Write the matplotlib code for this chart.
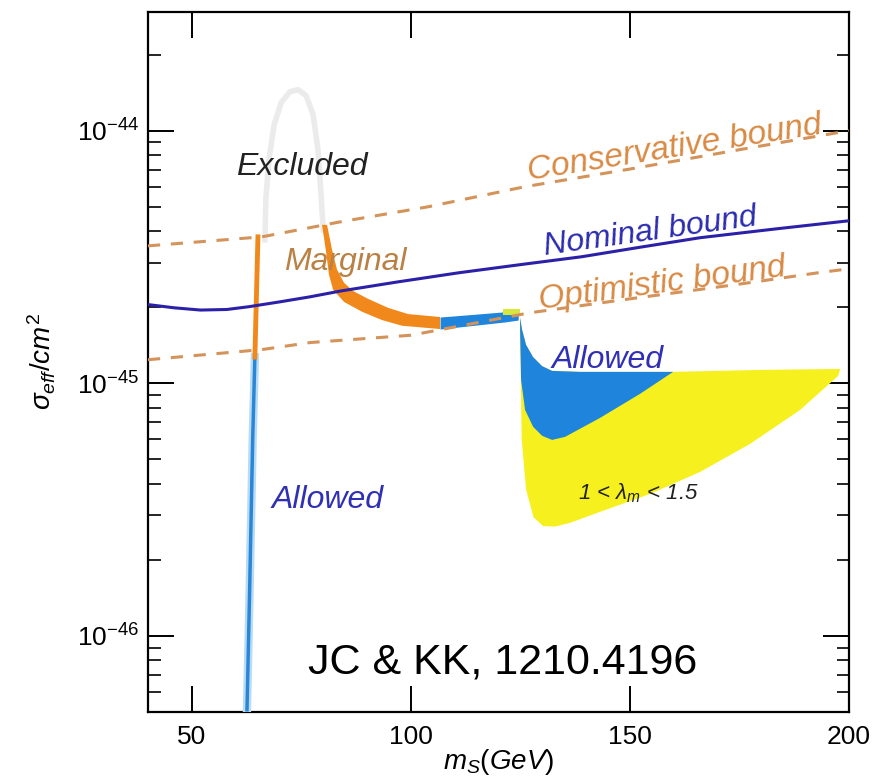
import numpy as np
import matplotlib
matplotlib.use("Agg")
import matplotlib.pyplot as plt
from matplotlib.ticker import NullFormatter, FixedLocator, LogFormatterMathtext

plt.rcParams['font.family'] = ['Liberation Sans', 'DejaVu Sans']
plt.rcParams['mathtext.fontset'] = 'custom'
plt.rcParams['mathtext.rm'] = 'Liberation Sans'
plt.rcParams['mathtext.it'] = 'Liberation Sans:italic'
plt.rcParams['mathtext.bf'] = 'Liberation Sans:bold'

U = 1e-45  # cross sections below are in units of 1e-45 cm^2

# direct-detection bounds
m_nom = [40, 46, 52, 58, 63, 70, 77, 84, 97, 111, 125, 139, 152, 166, 183, 200]
s_nom = [2.05, 1.99, 1.95, 1.96, 2.01, 2.10, 2.20, 2.32, 2.52, 2.74, 2.95, 3.17, 3.45, 3.77, 4.08, 4.40]

m_cons = [40, 66, 84, 104, 126, 150, 175, 200]
s_cons = [3.50, 3.80, 4.36, 5.00, 6.00, 7.05, 8.41, 10.0]

m_opt = [40, 66, 77, 100, 127, 150, 175, 193, 200]
s_opt = [1.24, 1.36, 1.45, 1.55, 1.90, 2.16, 2.47, 2.74, 2.84]

# excluded peak (faint)
m_exc = [66.7, 66.9, 67.6, 68.8, 70.4, 72.4, 74.3, 76.1, 77.7, 78.8, 79.5, 80.0]
s_exc = [3.70, 5.33, 7.68, 10.56, 12.91, 14.27, 14.53, 13.76, 11.57, 8.41, 5.58, 4.06]

# resonance branch near m_h/2
m_marg_v = [65.1, 64.4]
s_marg_v = [3.80, 1.27]
m_allow_v = [64.4, 63.9, 63.2, 62.6]
s_allow_v = [1.27, 0.60, 0.15, 0.051]

# marginal band (orange)
m_orA = [80.87, 82.01, 83.15, 84.75, 86.80, 90.23, 94.79, 99.36, 106.67]
s_orA = [4.24, 3.38, 2.82, 2.50, 2.32, 2.16, 1.99, 1.88, 1.83]
m_orB = [79.73, 80.64, 81.32, 82.24, 84.75, 88.86, 93.42, 97.99, 106.67]
s_orB = [4.24, 3.32, 2.69, 2.35, 2.10, 1.92, 1.78, 1.69, 1.64]

# allowed flat band (blue)
m_bf = [106.67, 113.5, 121.51, 124.5]
s_bf_top = [1.83, 1.87, 1.92, 1.92]
s_bf_bot = [1.64, 1.69, 1.75, 1.78]
m_yb = [121.0, 125.0]
s_yb_top = [1.97, 1.97]
s_yb_bot = [1.86, 1.86]

# allowed region above m_h (blue)
m_blue_top = [124.93, 125.39, 126.30, 127.90, 129.95, 132.24, 138.63, 159.86]
s_blue_top = [1.82, 1.63, 1.42, 1.27, 1.17, 1.12, 1.11, 1.11]
m_blue_bot = [152.33, 143.20, 135.21, 132.24, 129.95, 127.90, 126.07, 125.16, 124.93]
s_blue_bot = [0.909, 0.730, 0.614, 0.597, 0.620, 0.673, 0.785, 1.03, 1.63]

# 1 < lambda_m < 1.5 region (yellow)
m_yel_top = m_blue_top + [179.73, 197.99]
s_yel_top = s_blue_top + [1.13, 1.14]
m_yel_bot = [197.53, 188.86, 177.44, 166.03, 154.61, 143.20, 136.5, 133.0, 130.2, 128.0, 126.3, 125.3, 124.93]
s_yel_bot = [1.07, 0.785, 0.576, 0.446, 0.365, 0.310, 0.281, 0.271, 0.272, 0.295, 0.380, 0.600, 1.63]

x_ticks = [50, 100, 150, 200]
y_ticks = [1e-46, 1e-45, 1e-44]


def arr(v):
    return np.array(v, dtype=float) * U


fig = plt.figure(figsize=(8.74, 7.79), dpi=100)
ax = fig.add_axes([0.1693, 0.0860, 0.8021, 0.8986])

orange = '#f0881c'
blue = '#1f84dc'
yellow = '#f6f01e'
dash_c = '#d4935a'

ax.plot(m_exc, arr(s_exc), color='#ebebeb', lw=4, zorder=1)

ax.fill(m_yel_top + m_yel_bot, np.concatenate([arr(s_yel_top), arr(s_yel_bot)]),
        color=yellow, lw=0, zorder=2)
ax.fill(m_blue_top + m_blue_bot, np.concatenate([arr(s_blue_top), arr(s_blue_bot)]),
        color=blue, lw=0, zorder=3)
ax.fill_between(m_bf, arr(s_bf_bot), arr(s_bf_top), color=blue, lw=0, zorder=3)
ax.fill_between(m_yb, arr(s_yb_bot), arr(s_yb_top), color='#d8e83a', lw=0, zorder=3)
ax.fill(m_orA + m_orB[::-1], np.concatenate([arr(s_orA), arr(s_orB)[::-1]]),
        color=orange, lw=0, zorder=3)

ax.plot(m_allow_v, arr(s_allow_v), color='#b8dcf6', lw=6, zorder=3)
ax.plot(m_allow_v, arr(s_allow_v), color='#2a86d6', lw=2.5, zorder=4)
ax.plot(m_marg_v, arr(s_marg_v), color=orange, lw=3.5, zorder=4)

ax.plot(m_cons, arr(s_cons), color=dash_c, lw=2.2, ls=(0, (4, 3.5)), zorder=5)
ax.plot(m_opt, arr(s_opt), color=dash_c, lw=2.2, ls=(0, (4, 3.5)), zorder=5)
ax.plot(m_nom, arr(s_nom), color='#2c20a8', lw=2.2, zorder=5)

ax.set_yscale('log')
ax.set_xlim(40, 200)
ax.set_ylim(5.0e-47, 2.95e-44)

minor_y = [k * d for d in [1e-47, 1e-46, 1e-45, 1e-44] for k in range(2, 10)
           if 5.0e-47 <= k * d <= 2.95e-44]
ax.xaxis.set_major_locator(FixedLocator(x_ticks))
ax.yaxis.set_major_locator(FixedLocator(y_ticks))
ax.yaxis.set_major_formatter(LogFormatterMathtext())
ax.yaxis.set_minor_locator(FixedLocator(minor_y))
ax.yaxis.set_minor_formatter(NullFormatter())
ax.tick_params(axis='both', which='major', direction='in', length=19, width=1.4,
               labelsize=19, top=True, right=True)
ax.tick_params(axis='y', which='minor', direction='in', length=9, width=1.2,
               right=True, left=True)
ax.tick_params(axis='x', which='major', pad=9)
ax.tick_params(axis='y', which='major', pad=6)
for sp in ax.spines.values():
    sp.set_linewidth(1.6)

ax.set_xlabel(r'$m_S(GeV)$', fontsize=20, labelpad=-1)
ax.set_ylabel(r'$\sigma_{eff}/cm^2$', fontsize=20, labelpad=14)

fs = 23
ax.text(75.2, 7.20 * U, 'Excluded', fontsize=fs, style='italic', color='#222222',
        ha='center', va='center')
ax.text(85.0, 3.03 * U, 'Marginal', fontsize=fs, style='italic', color='#b98143',
        ha='center', va='center')
ax.text(160.3, 8.48 * U, 'Conservative bound', fontsize=24, style='italic',
        color='#d98a44', ha='center', va='center', rotation=9, rotation_mode='anchor')
ax.text(154.6, 3.98 * U, 'Nominal bound', fontsize=fs, style='italic',
        color='#2c2cb0', ha='center', va='center', rotation=8, rotation_mode='anchor')
ax.text(157.4, 2.48 * U, 'Optimistic bound', fontsize=24, style='italic',
        color='#d98a44', ha='center', va='center', rotation=7.7, rotation_mode='anchor')
ax.text(144.8, 1.24 * U, 'Allowed', fontsize=fs, style='italic', color='#3030b4',
        ha='center', va='center', zorder=6)
ax.text(80.9, 0.346 * U, 'Allowed', fontsize=fs, style='italic', color='#3030b4',
        ha='center', va='center')
ax.text(151.9, 0.368 * U, '1 < λ$_m$ < 1.5', fontsize=16, style='italic',
        color='#222222', ha='center', va='center', zorder=6)
ax.text(121.05, 0.0782 * U, 'JC & KK, 1210.4196', fontsize=31, color='black',
        ha='center', va='center')

fig.savefig('out.png', dpi=100)
